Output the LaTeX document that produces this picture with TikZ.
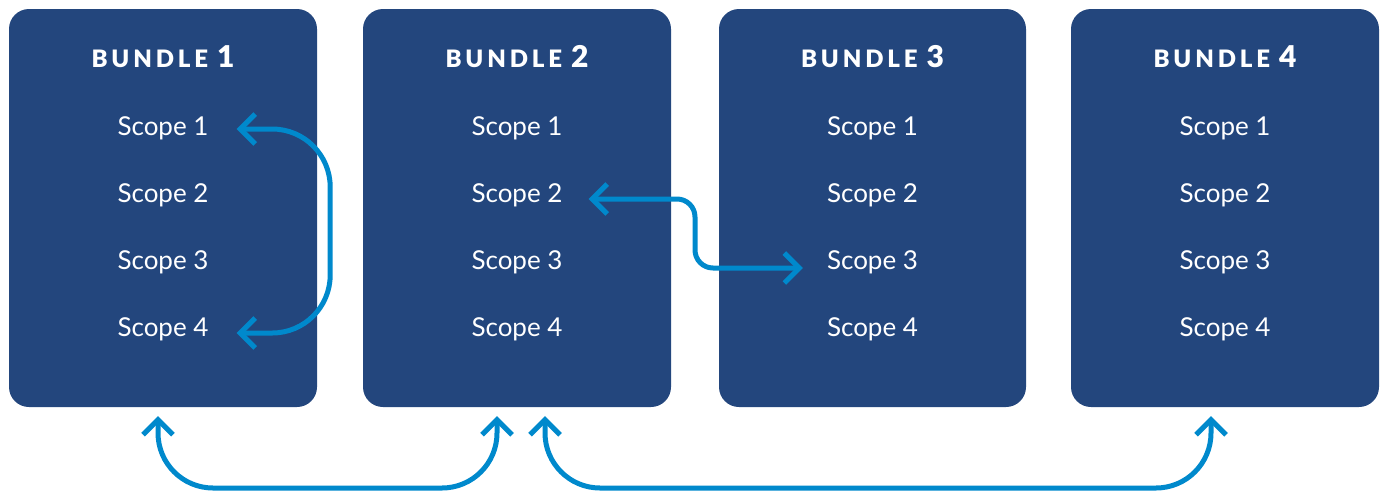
\documentclass[tikz,border=0pt]{standalone}
\usepackage{fontspec}
\setmainfont{Lato}
\newfontfamily\titlefont[LetterSpace=16]{Lato Black}
\newfontfamily\numfont{Lato Black}
\usetikzlibrary{arrows.meta,calc}
\definecolor{bundleblue}{RGB}{35,70,125}
\definecolor{linkblue}{RGB}{0,137,204}
\tikzset{
  bundlebox/.style={fill=bundleblue, draw=none, rounded corners=20pt,
    minimum height=398pt, inner sep=0pt},
  bundletitle/.style={text=white, inner sep=0pt, font=\titlefont\fontsize{24}{26}\selectfont},
  scopelabel/.style={text=white, inner sep=0pt, font=\fontsize{26}{28}\selectfont},
  link/.style={draw=linkblue, line width=5pt,
    {Straight Barb[length=15pt, width=30pt, line width=5pt]}-{Straight Barb[length=15pt, width=30pt, line width=5pt]}}
}
\begin{document}
\begin{tikzpicture}[x=1pt, y=-1pt]
\useasboundingbox (0,0) rectangle (1380,491);

% the four bundle panels
\node[bundlebox, minimum width=308pt] (box1) at (163,208) {};
\node[bundlebox, minimum width=308pt] (box2) at (517,208) {};
\node[bundlebox, minimum width=307pt] (box3) at (872.5,208) {};
\node[bundlebox, minimum width=308pt] (box4) at (1225,208) {};

% titles and scope lists
\foreach \b/\x in {1/163, 2/517, 3/872.5, 4/1225}{
  \node[bundletitle] (t\b) at (\x,57) {BUNDLE\hspace*{9pt}{\numfont\fontsize{30}{32}\selectfont\b}};
  \foreach \s/\y in {1/128, 2/195, 3/262, 4/329}{
    \node[scopelabel] (b\b s\s) at (\x,\y) {Scope \s};
  }
}

% scope links (yshift is in page units, so negative means lower)
\coordinate (a1) at ([xshift=28pt, yshift=-1pt]b1s1.east);
\coordinate (a4) at ([xshift=28pt, yshift=-4pt]b1s4.east);
\coordinate (rail) at ([xshift=13pt]box1.east);
\draw[link, rounded corners=58pt] (a1) -- (a1 -| rail) -- (a4 -| rail) -- (a4);

\coordinate (c2) at ([xshift=26pt, yshift=-4pt]b2s2.east);
\coordinate (c3) at ([xshift=-24pt, yshift=-6pt]b3s3.west);
\coordinate (gap) at ($(box2.east)!0.5!(box3.west)$);
\draw[link, rounded corners=18pt] (c2) -- (c2 -| gap) -- (c3 -| gap) -- (c3);

% bundle links underneath
\coordinate (low) at (0,488);
\coordinate (p1) at ([shift={(-5pt,-9pt)}]box1.south);
\coordinate (p2) at ([shift={(-20pt,-9pt)}]box2.south);
\coordinate (p3) at ([shift={(28pt,-9pt)}]box2.south);
\coordinate (p4) at ([shift={(-14pt,-9pt)}]box4.south);
\draw[link, rounded corners=55pt] (p1) -- (p1 |- low) -- (p2 |- low) -- (p2);
\draw[link, rounded corners=55pt] (p3) -- (p3 |- low) -- (p4 |- low) -- (p4);
\end{tikzpicture}
\end{document}
